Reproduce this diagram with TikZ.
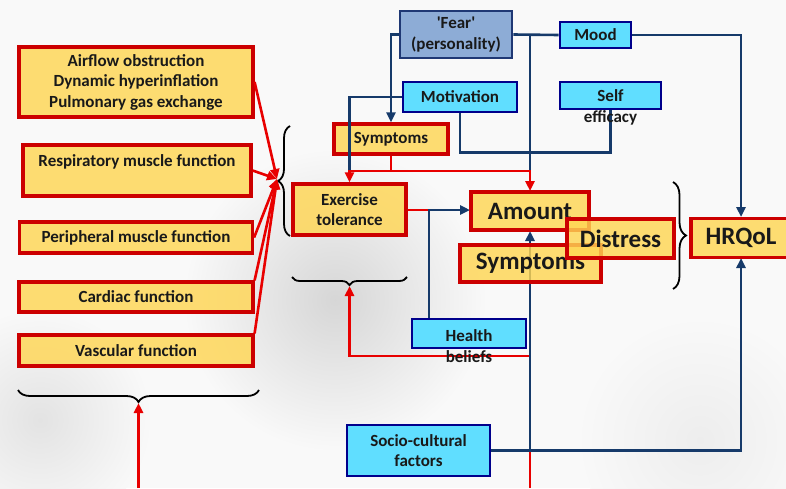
\documentclass[tikz,border=0pt]{standalone}
\usepackage{fontspec}
\setmainfont{Carlito}
\usetikzlibrary{calc,arrows.meta,decorations.pathreplacing}

\definecolor{box yellow}{RGB}{255,214,84}
\definecolor{box red}{RGB}{204,0,0}
\definecolor{link red}{RGB}{232,0,0}
\definecolor{link blue}{RGB}{22,58,106}
\definecolor{box cyan}{RGB}{96,222,255}
\definecolor{box navy}{RGB}{0,0,140}
\definecolor{fear blue}{RGB}{141,172,214}
\definecolor{fear navy}{RGB}{31,56,116}

\tikzset{
    factor/.style={draw=box red, line width=3.2pt, fill=box yellow, fill opacity=0.82,
        text opacity=1, inner sep=0pt, align=center, text=black!90,
        font=\bfseries\fontsize{17}{20.5}\selectfont},
    outcome/.style={factor, font=\bfseries\fontsize{25}{30}\selectfont},
    psych/.style={draw=box navy, line width=2.8pt, fill=box cyan, inner sep=0pt,
        align=center, text=black!90, font=\bfseries\fontsize{17}{20.5}\selectfont},
    psych text/.style={align=center, text=black!90, font=\bfseries\fontsize{17}{20.5}\selectfont},
    red link/.style={draw=link red, line width=2.6pt},
    blue link/.style={draw=link blue, line width=2.6pt},
    arrowed/.style={-{Triangle[length=10pt,width=9pt]}},
    brace line/.style={draw=black, line width=1.8pt, decorate}
}

\begin{document}
\begin{tikzpicture}[x=1pt,y=-1pt]

    \useasboundingbox (0,0) rectangle (786,488);
    \fill[white!95!gray] (0,0) rectangle (786,488);
    \shade[inner color=gray!32, outer color=white!95!gray] (335,300) circle (150pt);
    \shade[inner color=gray!22, outer color=white!95!gray] (40,420) circle (110pt);
    \shade[inner color=gray!14, outer color=white!95!gray] (700,440) circle (120pt);

    \coordinate (Left brace)     at (277,179);
    \coordinate (Organ brace)    at (138.5,403);
    \coordinate (Organ bottom)   at (138.5,488);
    \coordinate (Exercise brace) at (349.5,286);
    \coordinate (Red bottom)     at (530,488);
    \coordinate (Red turn)       at (530,356);
    \coordinate (Symptoms split) at (391,171);
    \coordinate (Exercise join)  at (349.5,171);
    \coordinate (Health join)    at (429,210);

    \draw[brace line, decoration={brace, amplitude=12pt}] (290,236) -- (290,126);
    \draw[brace line, decoration={brace, amplitude=8pt}]  (407,277) -- (292,277);
    \draw[brace line, decoration={brace, amplitude=12pt}] (259,390) -- (18,390);
    \draw[brace line, decoration={brace, amplitude=13pt}] (673,182) -- (673,289);

    \node[factor, minimum width=234pt, minimum height=70pt] (Airflow)    at (136,82)
        {Airflow obstruction\\Dynamic hyperinflation\\Pulmonary gas exchange};
    \node[factor, minimum width=228pt, minimum height=51pt] (Respiratory) at (137,170.5)
        {Respiratory muscle function\\\mbox{}};
    \node[factor, minimum width=233pt, minimum height=31pt] (Peripheral) at (136,237.5)
        {Peripheral muscle function};
    \node[factor, minimum width=234pt, minimum height=30pt] (Cardiac)    at (136,297)
        {Cardiac function};
    \node[factor, minimum width=234pt, minimum height=31pt] (Vascular)   at (136,350.5)
        {Vascular function};

    \draw[red link, arrowed] (Airflow.east)          -- (Left brace);
    \draw[red link, arrowed] (Respiratory.east)      -- (Left brace);
    \draw[red link, arrowed] (Peripheral.east)       -- (Left brace);
    \draw[red link, arrowed] (Cardiac.north east)    -- (Left brace);
    \draw[red link, arrowed] (Vascular.north east)   -- (Left brace);
    \draw[red link, arrowed] (Organ bottom)          -- (Organ brace);

    \draw[red link, arrowed] (Red bottom) -- (Red turn) -| (Exercise brace);

    \node[factor, minimum width=114pt, minimum height=30pt] (Symptoms small) at (391,139)
        {Symptoms};
    \node[factor, minimum width=113pt, minimum height=51pt] (Exercise) at (349.5,209.5)
        {Exercise\\tolerance};

    \node[draw=fear navy, line width=2.8pt, fill=fear blue, inner sep=0pt, align=center,
        text=black!90, font=\bfseries\fontsize{17}{20.5}\selectfont,
        minimum width=112pt, minimum height=47pt] (Fear) at (456,34.5)
        {\textquotesingle Fear\textquotesingle\\(personality)};
    \node[psych, minimum width=114pt, minimum height=30pt] (Motivation) at (460,97)  {Motivation};
    \node[psych, minimum width=71pt,  minimum height=26pt] (Mood)       at (595.5,35) {Mood};
    \node[psych, minimum width=101pt, minimum height=27pt] (Self)       at (610.5,95.5) {};
    \node[psych, minimum width=114pt, minimum height=29pt] (Health)     at (469,333.5) {};
    \node[psych, minimum width=143pt, minimum height=51pt] (Socio)      at (418.5,450.5)
        {Socio-cultural\\factors};

    \draw[blue link] (Motivation.west) -| (Exercise join);
    \draw[blue link] (Motivation.south) -- ++(0,39) -| (Self.south);
    \draw[blue link] (Fear.east) -- (Mood.west);
    \draw[blue link] (530,34.5) -- (530,171);
    \draw[blue link, arrowed] (Fear.west) -| (Symptoms small.north);
    \draw[blue link, arrowed] (Mood.east) -| (741,217);

    \draw[red link] (Symptoms small.south) -- (Symptoms split);
    \draw[red link, arrowed] (Symptoms split) -- (Exercise join) -- (Exercise.north);
    \draw[red link, arrowed] (Symptoms split) -| (530,191);
    \draw[red link] (Exercise.east |- Health join) -- (Health join);
    \draw[blue link, arrowed] (Health.north -| Health join) -- (Health join) -- (470,210);

    \draw[blue link, arrowed] (Socio.east) -| (741,258);
    \draw[blue link, arrowed] (Socio.east -| Red bottom) -- (530,231);

    \node[outcome, minimum width=118pt, minimum height=38pt] (Amount)   at (530,211)   {Amount};
    \node[outcome, minimum width=141pt, minimum height=37pt] (Symptoms) at (530.5,263.5) {Symptoms};
    \node[outcome, minimum width=107pt, minimum height=39pt] (Distress) at (620.5,238.5) {Distress};
    \node[outcome, minimum width=100pt, minimum height=39pt] (HRQoL)    at (741,238)   {HRQoL};

    \node[psych text] at ($(Self)+(0,12)$)   {Self\\efficacy};
    \node[psych text] at ($(Health)+(0,12.5)$) {Health\\beliefs};

\end{tikzpicture}
\end{document}
